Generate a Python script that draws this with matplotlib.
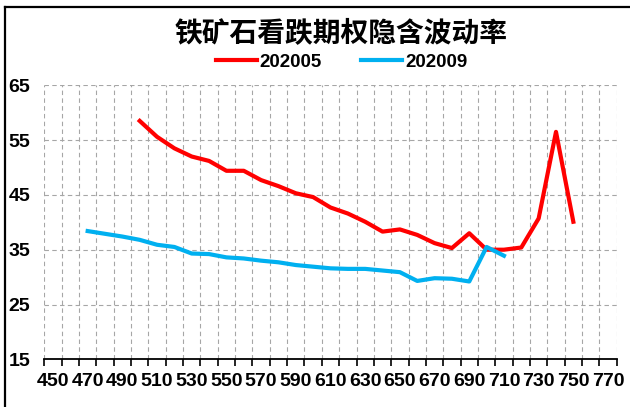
import matplotlib.pyplot as plt
import numpy as np
from matplotlib.lines import Line2D

# strike categories on the x axis
strikes = list(range(450, 780, 10))
tick_labels = [str(s) for s in strikes[::2]]

# 202005 contract: strikes 500..750
strikes_05 = list(range(500, 760, 10))
iv_05 = [58.5, 55.6, 53.5, 52.0, 51.2, 49.4, 49.4, 47.7, 46.6, 45.3,
         44.6, 42.7, 41.6, 40.1, 38.3, 38.7, 37.7, 36.2, 35.3, 38.0,
         35.0, 35.0, 35.4, 40.7, 56.5, 40.1]

# 202009 contract: strikes 470..710
strikes_09 = list(range(470, 720, 10))
iv_09 = [38.4, 37.9, 37.4, 36.8, 35.9, 35.5, 34.3, 34.2, 33.6, 33.4,
         33.0, 32.7, 32.2, 31.9, 31.6, 31.5, 31.5, 31.2, 30.9, 29.3,
         29.8, 29.7, 29.2, 35.5, 33.9]

plt.rcParams['font.family'] = ['Liberation Sans', 'DejaVu Sans']
plt.rcParams['font.weight'] = 'bold'

fig = plt.figure(figsize=(6.3, 4.07), dpi=100)
ax = fig.add_axes([44.3 / 630, 1 - 359.3 / 407, (616.7 - 44.3) / 630, (359.3 - 85.3) / 407])

x05 = [strikes.index(s) for s in strikes_05]
x09 = [strikes.index(s) for s in strikes_09]
ax.plot(x05, iv_05, color='#FF0000', lw=3, label='202005')
ax.plot(x09, iv_09, color='#00B0F0', lw=3, label='202009')

ax.set_xlim(-0.5, len(strikes) - 0.5)
ax.set_ylim(15, 65)
ax.set_yticks(np.arange(15, 66, 10))
ax.set_xticks(np.arange(0, len(strikes), 2))
ax.set_xticklabels(tick_labels, fontweight='bold')
ax.set_xticks(np.arange(-0.5, len(strikes), 1), minor=True)

ax.tick_params(axis='x', which='major', length=0, pad=10, labelsize=14)
ax.tick_params(axis='x', which='minor', length=5, width=1.2, color='black', direction='out')
ax.tick_params(axis='y', length=0, pad=10, labelsize=14)
plt.setp(ax.get_yticklabels(), fontweight='bold')

ax.grid(True, axis='x', which='minor', color='#A6A6A6', ls=(0, (4, 3)), lw=0.8)
ax.grid(True, axis='y', which='major', color='#A6A6A6', ls=(0, (4, 3)), lw=0.8)
ax.set_axisbelow(True)

for side in ['top', 'right', 'left']:
    ax.spines[side].set_visible(False)
ax.spines['bottom'].set_linewidth(1.3)

fig.text(341 / 630, 1 - 34 / 407, '铁矿石看跌期权隐含波动率', ha='center', va='center',
         fontsize=20, fontweight='bold', family=['Noto Sans CJK SC', 'DejaVu Sans'])

fig.legend(loc='center', bbox_to_anchor=(341.5 / 630, 1 - 62 / 407), ncol=2,
           frameon=False, handlelength=2.2, handletextpad=0.15, columnspacing=2.1,
           prop={'family': 'Liberation Sans', 'weight': 'bold', 'size': 13.5})

# outer frame (top and left edges)
fig.add_artist(Line2D([5 / 630, 5 / 630], [0, 1 - 6.5 / 407], color='black', lw=1.6))
fig.add_artist(Line2D([5 / 630, 1], [1 - 6.5 / 407, 1 - 6.5 / 407], color='black', lw=1.6))

plt.savefig('out.png', dpi=100)
